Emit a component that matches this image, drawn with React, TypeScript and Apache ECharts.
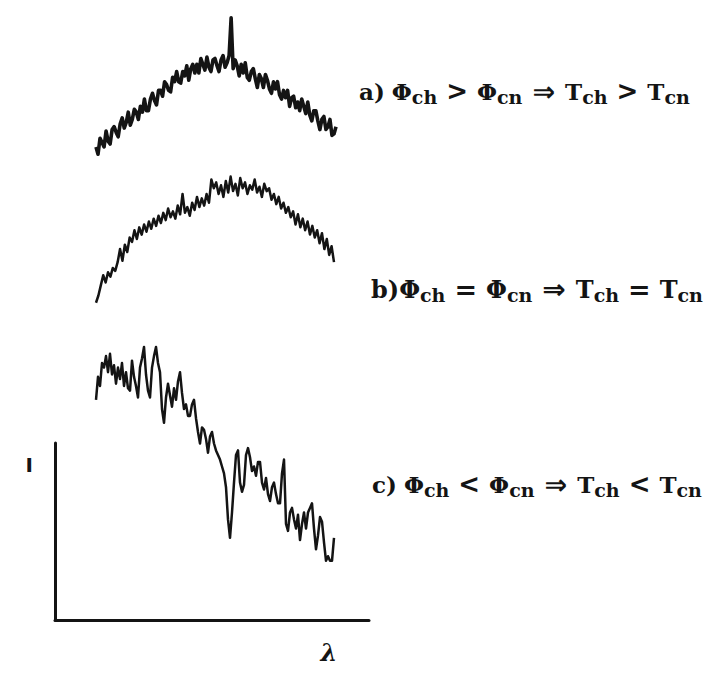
import React, { useEffect, useRef } from "react";
import * as echarts from "echarts";

// Intensity (arbitrary units, 0-100) sampled at equal wavelength steps
const spectrumA = [
  9, 4, 15, 12, 9, 20, 13, 11, 21, 23, 19, 16,
  25, 29, 22, 26, 33, 24, 28, 35, 33, 28, 37, 33, 42,
  34, 34, 42, 46, 41, 38, 48, 48,
  44, 54, 52, 48, 47, 57, 54, 61, 54,
  53, 61, 58, 65, 55, 63, 66, 60,
  66, 60, 70, 66, 62, 71, 64, 61, 69, 70, 65, 61,
  69, 72, 64, 67, 72,
  98,
  63, 69, 65, 58, 66, 60, 67,
  57, 55, 61, 63, 56, 50, 59, 56, 50, 59,
  55, 49, 46, 54, 49, 54, 45, 42, 48, 43,
  48, 37, 43, 44, 36, 40, 34, 42, 37, 32,
  40, 31, 27, 34, 34, 27, 21, 28, 30, 21,
  23, 28, 17, 18, 23,
];

const spectrumB = [
  5, 10, 17, 24, 19, 26, 23, 29, 27, 33,
  42, 34, 45, 40, 50, 47, 55, 49, 57, 52,
  59, 54, 61, 56, 63, 58, 65, 60, 67, 62,
  70, 64, 68, 63, 72, 66, 80, 67, 71, 65,
  74, 69, 78, 71, 77, 72, 80, 74, 90, 84,
  88, 80, 86, 78, 89, 81, 92, 82, 87, 79,
  91, 84, 88, 80, 86, 83, 90, 81, 85, 78,
  87, 82, 84, 76, 80, 73, 78, 70, 74, 67,
  71, 64, 68, 59, 66, 57, 63, 55, 61, 52,
  58, 50, 55, 46, 53, 42, 49, 38, 44, 33,
];

const spectrumC = [
  74, 84, 80, 90, 88, 93, 86, 94, 85, 89,
  81, 88, 83, 90, 80, 86, 79, 78, 91, 84,
  80, 75, 88, 92, 97, 85, 78, 75, 88, 93,
  97, 90, 86, 70, 64, 75, 81, 76, 71, 79,
  74, 82, 86, 77, 70, 72, 67, 67, 72, 74,
  66, 60, 55, 62, 61, 57, 51, 58, 60, 55,
  52, 50, 48, 45, 42, 36, 22, 14, 25, 38,
  50, 52, 38, 34, 37, 50, 53, 49, 43, 45,
  41, 47, 47, 38, 35, 40, 33, 30, 36, 38,
  33, 29, 29, 42, 48, 20, 17, 25, 27, 22,
  18, 24, 13, 20, 25, 18, 25, 27, 29, 18,
  9, 15, 23, 21, 12, 4, 6, 4, 4, 14,
];

const axisNameY = "I";
const axisNameX = "λ";

const captionA = "{m|a)}{g| }{m|Φ}{s|ch}{op|>}{m|Φ}{s|cn}{ar|⇒}{m|T}{s|ch}{op|>}{m|T}{s|cn}";
const captionB = "{m|b)Φ}{s|ch}{op|=}{m|Φ}{s|cn}{ar|⇒}{m|T}{s|ch}{op|=}{m|T}{s|cn}";
const captionC = "{m|c)}{g| }{m|Φ}{s|ch}{op|<}{m|Φ}{s|cn}{ar|⇒}{m|T}{s|ch}{op|<}{m|T}{s|cn}";

const ink = "#141414";

function idx(arr: number[]) {
  return arr.map((_, i) => String(i));
}

function makeRich(mSize: number, opSize: number, arSize: number, sSize: number, pad: number) {
  const base = {
    fontFamily: "DejaVu Serif",
    fontWeight: "bold",
    fill: ink,
    color: ink,
  };
  return {
    m: { ...base, fontSize: mSize, lineHeight: 30, verticalAlign: "middle" },
    g: { ...base, fontSize: mSize, lineHeight: 30, verticalAlign: "middle", width: 7 },
    op: {
      ...base,
      fontFamily: "DejaVu Sans",
      fontSize: opSize,
      lineHeight: 30,
      verticalAlign: "middle",
      padding: [0, pad, 0, pad],
    },
    ar: {
      ...base,
      fontFamily: "DejaVu Sans",
      fontSize: arSize,
      lineHeight: 30,
      verticalAlign: "middle",
      padding: [0, pad + 1, 0, pad + 1],
    },
    s: { ...base, fontSize: sSize, lineHeight: 14, verticalAlign: "bottom" },
  };
}

export default function App() {
  const ref = useRef<HTMLDivElement>(null);

  useEffect(() => {
    if (!ref.current) return;
    const chart = echarts.init(ref.current, undefined, { renderer: "svg" });

    const rich = makeRich(23, 26, 27, 19, 9);
    const richB = makeRich(24, 27, 28, 19, 9);

    const hiddenX = (gridIndex: number, data: string[]) => ({
      type: "category",
      gridIndex,
      data,
      boundaryGap: false,
      show: false,
    });
    const hiddenY = (gridIndex: number) => ({
      type: "value",
      gridIndex,
      min: 0,
      max: 100,
      show: false,
    });
    const lineSeries = (i: number, data: number[], w: number) => ({
      type: "line",
      xAxisIndex: i,
      yAxisIndex: i,
      data,
      symbol: "none",
      lineStyle: { color: ink, width: w, join: "round" },
      silent: true,
    });

    chart.setOption({
      animation: false,
      backgroundColor: "#ffffff",
      grid: [
        { left: 96, top: 15, width: 240, height: 145 },
        { left: 96, top: 165, width: 238, height: 145 },
        { left: 96, top: 340, width: 238, height: 230 },
        { left: 55, top: 443, width: 314, height: 177 },
      ],
      xAxis: [
        hiddenX(0, idx(spectrumA)),
        hiddenX(1, idx(spectrumB)),
        hiddenX(2, idx(spectrumC)),
        {
          type: "value",
          gridIndex: 3,
          min: 0,
          max: 1,
          axisLine: { show: true, onZero: false, lineStyle: { color: ink, width: 3 } },
          axisTick: { show: false },
          axisLabel: { show: false },
          splitLine: { show: false },
          name: axisNameX,
          nameLocation: "end",
          nameGap: -40,
          nameTextStyle: {
            fontFamily: "DejaVu Serif",
            fontStyle: "italic",
            fontWeight: "bold",
            fontSize: 24,
            color: ink,
            align: "center",
            verticalAlign: "top",
            padding: [20, 0, 0, 0],
          },
        },
      ],
      yAxis: [
        hiddenY(0),
        hiddenY(1),
        hiddenY(2),
        {
          type: "value",
          gridIndex: 3,
          min: 0,
          max: 1,
          axisLine: { show: true, onZero: false, lineStyle: { color: ink, width: 3 } },
          axisTick: { show: false },
          axisLabel: { show: false },
          splitLine: { show: false },
          name: axisNameY,
          nameLocation: "end",
          nameGap: -22,
          nameTextStyle: {
            fontFamily: "DejaVu Sans",
            fontWeight: "bold",
            fontSize: 20,
            color: ink,
            align: "right",
            verticalAlign: "middle",
            padding: [0, 22, 0, 0],
          },
        },
      ],
      series: [
        lineSeries(0, spectrumA, 3.6),
        lineSeries(1, spectrumB, 2.5),
        lineSeries(2, spectrumC, 2.5),
      ],
      graphic: [
        {
          type: "text",
          x: 359,
          y: 91,
          style: { text: captionA, rich, verticalAlign: "middle", align: "left" },
        },
        {
          type: "text",
          x: 371,
          y: 289,
          style: { text: captionB, rich: richB, verticalAlign: "middle", align: "left" },
        },
        {
          type: "text",
          x: 372,
          y: 484,
          style: { text: captionC, rich, verticalAlign: "middle", align: "left" },
        },
      ],
    });

    return () => chart.dispose();
  }, []);

  return (
    <div
      ref={ref}
      style={{ position: "fixed", left: 0, top: 0, width: 717, height: 674 }}
    />
  );
}
